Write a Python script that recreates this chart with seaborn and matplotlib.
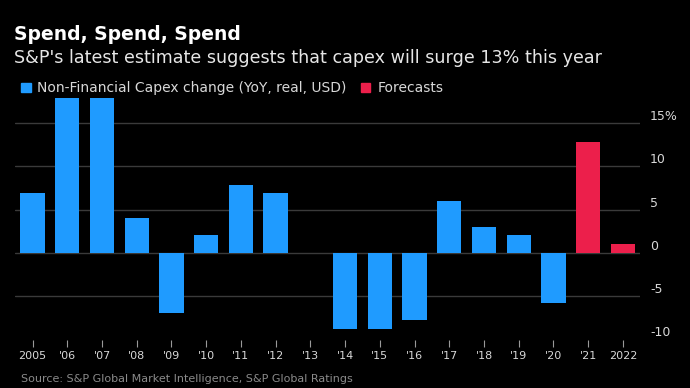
import matplotlib
matplotlib.use('Agg')
import matplotlib.pyplot as plt
from matplotlib.patches import Patch
import seaborn as sns
import pandas as pd

# data (% YoY)
years = ['2005', "'06", "'07", "'08", "'09", "'10", "'11", "'12", "'13",
         "'14", "'15", "'16", "'17", "'18", "'19", "'20", "'21", '2022']
capex = [6.9, 19.0, 19.0, 4.0, -6.9, 2.1, 7.9, 6.9, 0.0,
         -8.8, -8.8, -7.7, 6.0, 3.0, 2.1, -5.8, 12.8, 1.0]
kind = ['actual'] * 16 + ['forecast'] * 2

yticks = [-10, -5, 0, 5, 10, 15]
ylabels = ['-10', '-5', '0', '5', '10', '15%']

blue = '#1f9bff'
red = '#ec1f4b'
bg = '#000000'

df = pd.DataFrame({'year': years, 'capex': capex, 'kind': kind})

sns.set_theme(style='dark')
plt.rcParams['font.family'] = ['DejaVu Sans']

fig = plt.figure(figsize=(6.9, 3.88), dpi=100, facecolor=bg)
ax = fig.add_axes([0.022, 0.125, 0.906, 0.622])
ax.set_facecolor(bg)

sns.barplot(data=df, x='year', y='capex', hue='kind',
            palette={'actual': blue, 'forecast': red},
            dodge=False, width=0.7, legend=False, saturation=1,
            linewidth=0, edgecolor='none', ax=ax, zorder=3)

ax.set_ylim(-10, 17.9)
ax.set_xlim(-0.5, len(years) - 0.5)

# gridlines
for t in yticks[1:]:
    ax.axhline(t, color='#3a3a3a', lw=1, zorder=1)

ax.yaxis.tick_right()
ax.set_yticks(yticks)
ax.set_yticklabels(ylabels, color='#d8d8d8', fontsize=9, va='bottom')
ax.tick_params(axis='y', length=0, pad=7)
ax.tick_params(axis='x', colors='#9a9a9a', length=5, width=0.8,
               direction='out', pad=3, bottom=True)
for lab in ax.get_xticklabels():
    lab.set_color('#d8d8d8')
    lab.set_fontsize(8)
ax.set_xlabel('')
ax.set_ylabel('')
for s in ax.spines.values():
    s.set_visible(False)
ax.grid(False)

# titles
fig.text(0.02, 0.91, 'Spend, Spend, Spend', color='white',
         fontsize=13.5, fontweight='bold', va='center')
fig.text(0.02, 0.85, "S&P's latest estimate suggests that capex will surge 13% this year",
         color='#e6e6e6', fontsize=12.6, va='center')

# legend
handles = [Patch(color=blue, label='Non-Financial Capex change (YoY, real, USD)'),
           Patch(color=red, label='Forecasts')]
fig.legend(handles=handles, loc='center left', bbox_to_anchor=(0.012, 0.772),
           ncol=2, frameon=False, fontsize=10, labelcolor='#d8d8d8',
           handlelength=0.7, handleheight=0.7, handletextpad=0.5,
           columnspacing=1.0)

fig.text(0.03, 0.022, 'Source: S&P Global Market Intelligence, S&P Global Ratings',
         color='#8a8a8a', fontsize=8, va='center')

fig.savefig('out.png', dpi=100, facecolor=bg)
